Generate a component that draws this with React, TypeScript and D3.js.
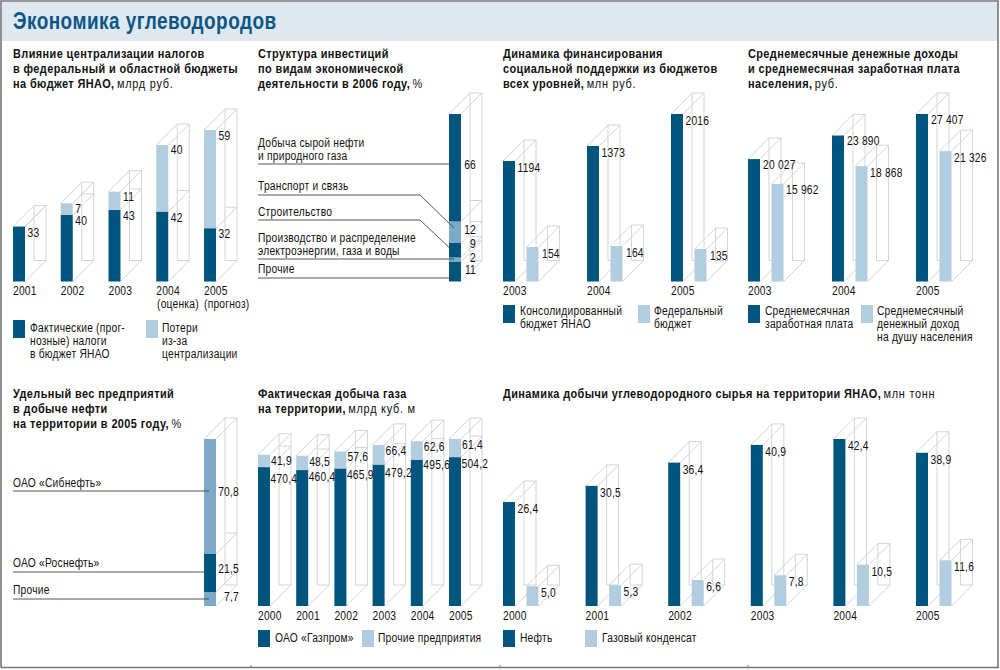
import React, { useEffect, useRef } from 'react';
import * as d3 from 'd3';

const DARK = '#00557f';
const LIGHT = '#b3cde0';
const MID = '#7eaac8';
const WIRE = '#d2d5d6';
const FONT = '"Liberation Sans", Arial, sans-serif';
// no condensed face is installed, so the type is squeezed horizontally
const SQUEEZE = 0.76;
const SQUEEZE_TITLE = 0.81;
const SQUEEZE_HEAD = 0.79;

// budget impact, bln rub
const budgetYears = ['2001', '2002', '2003', '2004', '2005'];
const budgetFact = [33, 40, 43, 42, 32];
const budgetLoss = [0, 7, 11, 40, 59];

// investment structure 2006, %
const investValues = [11, 2, 9, 12, 66];
const investColors = [DARK, MID, DARK, MID, DARK];

// social support, mln rub
const socialYears = ['2003', '2004', '2005'];
const socialConsolidated = [1194, 1373, 2016];
const socialFederal = [154, 164, 135];

// incomes, rub
const incomeYears = ['2003', '2004', '2005'];
const incomeSalary = [20027, 23890, 27407];
const incomeCash = [15962, 18868, 21326];

// oil share 2005, %
const oilValues = [7.7, 21.5, 70.8];
const oilColors = [MID, DARK, MID];

// gas output, bln m3
const gasYears = ['2000', '2001', '2002', '2003', '2004', '2005'];
const gasGazprom = [470.4, 460.4, 465.9, 479.2, 495.6, 504.2];
const gasOther = [41.9, 48.5, 57.6, 66.4, 62.6, 61.4];

// hydrocarbons, mln t
const hcYears = ['2000', '2001', '2002', '2003', '2004', '2005'];
const hcOil = [26.4, 30.5, 36.4, 40.9, 42.4, 38.9];
const hcCondensate = [5.0, 5.3, 6.6, 7.8, 10.5, 11.6];

const comma = (v: number) => v.toFixed(1).replace('.', ',');
const spaced = (v: number) => d3.format(',')(v).replace(',', ' ');

const BAR_W = 12;
const DEPTH = 21;

type Sel = d3.Selection<SVGGElement, unknown, null, undefined>;

const App: React.FC = () => {
  const svgRef = useRef<SVGSVGElement>(null);

  useEffect(() => {
    if (!svgRef.current) return;
    const svg = d3.select(svgRef.current);
    svg.selectAll('*').remove();
    const root = svg.append('g') as unknown as Sel;
    const wires = root.append('g').attr('stroke', WIRE).attr('stroke-width', 1).attr('fill', 'none');
    const bars = root.append('g');
    const leaders = root.append('g').attr('stroke', '#444').attr('stroke-width', 0.9).attr('fill', 'none');
    const labels = root.append('g').attr('font-family', FONT).attr('fill', '#111');

    const line = (x1: number, y1: number, x2: number, y2: number) =>
      wires.append('line').attr('x1', x1).attr('y1', y1).attr('x2', x2).attr('y2', y2);

    const squeezed = (x: number, y: number, k = SQUEEZE) =>
      labels.append('text').attr('transform', `translate(${x},${y}) scale(${k},1)`);

    const text = (x: number, y: number, s: string, anchor = 'start') =>
      squeezed(x, y)
        .attr('text-anchor', anchor)
        .attr('font-size', 13.5)
        .attr('letter-spacing', 0.3)
        .text(s);

    // one 3d column: filled stack in front, wire box going back and up
    const column = (x: number, base: number, y: d3.ScaleLinear<number, number>, values: number[], colors: string[]) => {
      let cum = 0;
      const tops = values.map(v => (cum += v));
      const top = y(cum);
      const d = DEPTH;
      line(x + d, top - d, x + d + BAR_W, top - d);
      line(x + d, top - d, x + d, base - d);
      line(x + d + BAR_W, top - d, x + d + BAR_W, base - d);
      line(x + d, base - d, x + d + BAR_W, base - d);
      line(x, top, x + d, top - d);
      line(x + BAR_W, base, x + BAR_W + d, base - d);
      tops.forEach(t => {
        line(x + BAR_W, y(t), x + BAR_W + d, y(t) - d);
        if (t !== cum) line(x + d, y(t) - d, x + d + BAR_W, y(t) - d);
      });
      values.forEach((v, i) => {
        if (!v) return;
        bars.append('rect')
          .attr('x', x).attr('width', BAR_W)
          .attr('y', y(tops[i])).attr('height', y(tops[i] - v) - y(tops[i]))
          .attr('fill', colors[i]);
      });
    };

    const title = (x: number, y: number, rows: string[], tail: string) => {
      rows.forEach((row, i) => {
        const t = squeezed(x, y + i * 15, SQUEEZE_TITLE)
          .attr('font-size', 13.5)
          .attr('letter-spacing', 0.5);
        t.append('tspan').attr('font-weight', 700).text(row);
        if (i === rows.length - 1) t.append('tspan').attr('dx', 3).attr('letter-spacing', 0.9).text(tail);
      });
    };

    const legend = (x: number, y: number, color: string, rows: string[], textX: number, rowY: number, h = 18) => {
      bars.append('rect').attr('x', x).attr('y', y).attr('width', 12).attr('height', h).attr('fill', color);
      rows.forEach((row, i) => text(textX, rowY + i * 13, row));
    };

    const leader = (points: [number, number][]) =>
      leaders.append('path').attr('d', d3.line()(points));

    // frame and header
    root.insert('rect', ':first-child').attr('x', 2).attr('y', 2).attr('width', 996).attr('height', 39).attr('fill', '#dfe8f1');
    const frame = root.append('g').attr('stroke', '#777').attr('fill', 'none');
    frame.append('path').attr('d', 'M1,667.5V1H998V667.5H1').attr('stroke-width', 1.6);
    [251, 500, 748].forEach(t => frame.append('line').attr('x1', t).attr('x2', t).attr('y1', 665).attr('y2', 668));
    squeezed(13, 29, SQUEEZE_HEAD)
      .attr('font-size', 24).attr('font-weight', 700).attr('fill', '#0b5685').attr('letter-spacing', 0.6)
      .text('Экономика углеводородов');

    const TOP_BASE = 281.5;
    const LOW_BASE = 606;

    // 1. budget
    title(13, 58, ['Влияние централизации налогов', 'в федеральный и областной бюджеты', 'на бюджет ЯНАО,'], 'млрд руб.');
    const budgetX = d3.scalePoint<string>().domain(budgetYears).range([13, 204]);
    const budgetY = d3.scaleLinear().domain([0, 91]).range([TOP_BASE, 130]);
    budgetYears.forEach((year, i) => {
      const x = budgetX(year) as number;
      column(x, TOP_BASE, budgetY, [budgetFact[i], budgetLoss[i]], [DARK, LIGHT]);
      text(x + BAR_W + 2.5, budgetY(budgetFact[i]) + 10, String(budgetFact[i]));
      if (budgetLoss[i]) text(x + BAR_W + 2.5, budgetY(budgetFact[i] + budgetLoss[i]) + 9.5, String(budgetLoss[i]));
      text(x, 295, year);
    });
    text(157, 308, '(оценка)');
    text(204, 308, '(прогноз)');
    legend(13, 320, DARK, ['Фактические (прог-', 'нозные) налоги', 'в бюджет ЯНАО'], 30, 332);
    legend(146, 320, LIGHT, ['Потери', 'из-за', 'централизации'], 162, 332);

    // 2. investments
    title(258, 58, ['Структура инвестиций', 'по видам экономической', 'деятельности в 2006 году,'], '%');
    const investY = d3.scaleLinear().domain([0, 11, 13, 22, 34, 100]).range([TOP_BASE, 262, 257.5, 242.5, 221.5, 114]);
    column(449, TOP_BASE, investY, investValues, investColors);
    const investNudge = [2, 2, -2, 2, 1];
    let investCum = 0;
    investValues.forEach((v, i) => {
      const mid = investY(investCum + v / 2);
      investCum += v;
      text(476, mid + investNudge[i], String(v), 'end');
    });
    text(258, 147, 'Добыча сырой нефти');
    text(258, 160, 'и природного газа');
    leader([[258, 164], [454, 164]]);
    text(258, 190, 'Транспорт и связь');
    leader([[258, 195], [420, 195], [454, 228]]);
    text(258, 216, 'Строительство');
    leader([[258, 220], [420, 220], [454, 252]]);
    text(258, 242, 'Производство и распределение');
    text(258, 255, 'электроэнергии, газа и воды');
    leader([[258, 259], [454, 259]]);
    text(258, 273, 'Прочие');
    leader([[258, 278], [454, 278]]);

    // 3. social support
    title(503, 58, ['Динамика финансирования', 'социальной поддержки из бюджетов', 'всех уровней,'], 'млн руб.');
    const socialX = d3.scalePoint<string>().domain(socialYears).range([503, 671]);
    const socialY = d3.scaleLinear().domain([0, 135, 164, 1194, 1373, 2016]).range([TOP_BASE, 249, 246, 161, 146, 114]);
    socialYears.forEach((year, i) => {
      const x = socialX(year) as number;
      column(x, TOP_BASE, socialY, [socialConsolidated[i]], [DARK]);
      column(x + 23.5, TOP_BASE, socialY, [socialFederal[i]], [LIGHT]);
      text(x + BAR_W + 2.5, socialY(socialConsolidated[i]) + 10.5, String(socialConsolidated[i]));
      text(x + 23.5 + BAR_W + 3.5, socialY(socialFederal[i]) + 10.5, String(socialFederal[i]));
      text(x, 295, year);
    });
    legend(503, 305, DARK, ['Консолидированный', 'бюджет ЯНАО'], 520, 315);
    legend(638, 305, LIGHT, ['Федеральный', 'бюджет'], 654, 315);

    // 4. incomes
    title(748, 58, ['Среднемесячные денежные доходы', 'и среднемесячная заработная плата', 'населения,'], 'руб.');
    const incomeX = d3.scalePoint<string>().domain(incomeYears).range([748, 916]);
    const incomeY = d3.scaleLinear().domain([0, 27407]).range([TOP_BASE, 114]);
    incomeYears.forEach((year, i) => {
      const x = incomeX(year) as number;
      column(x, TOP_BASE, incomeY, [incomeSalary[i]], [DARK]);
      column(x + 23.5, TOP_BASE, incomeY, [incomeCash[i]], [LIGHT]);
      text(x + BAR_W + 3, incomeY(incomeSalary[i]) + 9.5, spaced(incomeSalary[i]));
      text(x + 23.5 + BAR_W + 2.5, incomeY(incomeCash[i]) + 10.5, spaced(incomeCash[i]));
      text(x, 295, year);
    });
    legend(748, 305, DARK, ['Среднемесячная', 'заработная плата'], 765, 315);
    legend(861, 305, LIGHT, ['Среднемесячный', 'денежный доход', 'на душу населения'], 877, 315);

    // 5. oil share
    title(13, 398, ['Удельный вес предприятий', 'в добыче нефти', 'на территории в 2005 году,'], '%');
    const oilY = d3.scaleLinear().domain([0, 7.7, 29.2, 100]).range([LOW_BASE, 592, 554, 439]);
    column(204, LOW_BASE, oilY, oilValues, oilColors);
    text(239, 601, comma(oilValues[0]), 'end');
    text(239, 573, comma(oilValues[1]), 'end');
    text(239, 496, comma(oilValues[2]), 'end');
    text(13, 487, 'ОАО «Сибнефть»');
    leader([[13, 491], [209, 491]]);
    text(13, 567, 'ОАО «Роснефть»');
    leader([[13, 572], [209, 572]]);
    text(13, 594, 'Прочие');
    leader([[13, 599], [209, 599]]);

    // 6. gas
    title(258, 398, ['Фактическая добыча газа', 'на территории,'], 'млрд куб. м');
    const gasX = d3.scalePoint<string>().domain(gasYears).range([258, 449]);
    const gasY = d3.scaleLinear().domain([0, 565.6]).range([LOW_BASE, 439]);
    const gasNudge = [16, 11, 11, 12, 9, 11];
    gasYears.forEach((year, i) => {
      const x = gasX(year) as number;
      column(x, LOW_BASE, gasY, [gasGazprom[i], gasOther[i]], [DARK, LIGHT]);
      text(x + BAR_W + 0.5, gasY(gasGazprom[i]) + gasNudge[i], comma(gasGazprom[i]));
      text(x + BAR_W + 1, gasY(gasGazprom[i] + gasOther[i]) + 10, comma(gasOther[i]));
      text(x, 620, year);
    });
    legend(258, 630, DARK, ['ОАО «Газпром»'], 275, 642, 17);
    legend(362, 630, LIGHT, ['Прочие предприятия'], 378, 642, 17);

    // 7. hydrocarbons
    title(503, 398, ['Динамика добычи углеводородного сырья на территории ЯНАО,'], 'млн тонн');
    const hcX = d3.scalePoint<string>().domain(hcYears).range([503, 916]);
    const hcY = d3.scaleLinear().domain([0, 42.4]).range([LOW_BASE, 439]);
    hcYears.forEach((year, i) => {
      const x = hcX(year) as number;
      column(x, LOW_BASE, hcY, [hcOil[i]], [DARK]);
      column(x + 23.5, LOW_BASE, hcY, [hcCondensate[i]], [LIGHT]);
      text(x + BAR_W + 2.5, hcY(hcOil[i]) + 11, comma(hcOil[i]));
      text(x + 23.5 + BAR_W + 2.5, hcY(hcCondensate[i]) + 11, comma(hcCondensate[i]));
      text(x, 620, year);
    });
    legend(503, 630, DARK, ['Нефть'], 520, 642, 17);
    legend(585, 630, LIGHT, ['Газовый конденсат'], 602, 642, 17);
  }, []);

  return (
    <svg
      ref={svgRef}
      width={1000}
      height={670}
      style={{ position: 'absolute', left: 0, top: 0, background: '#fff' }}
    />
  );
};

export default App;
